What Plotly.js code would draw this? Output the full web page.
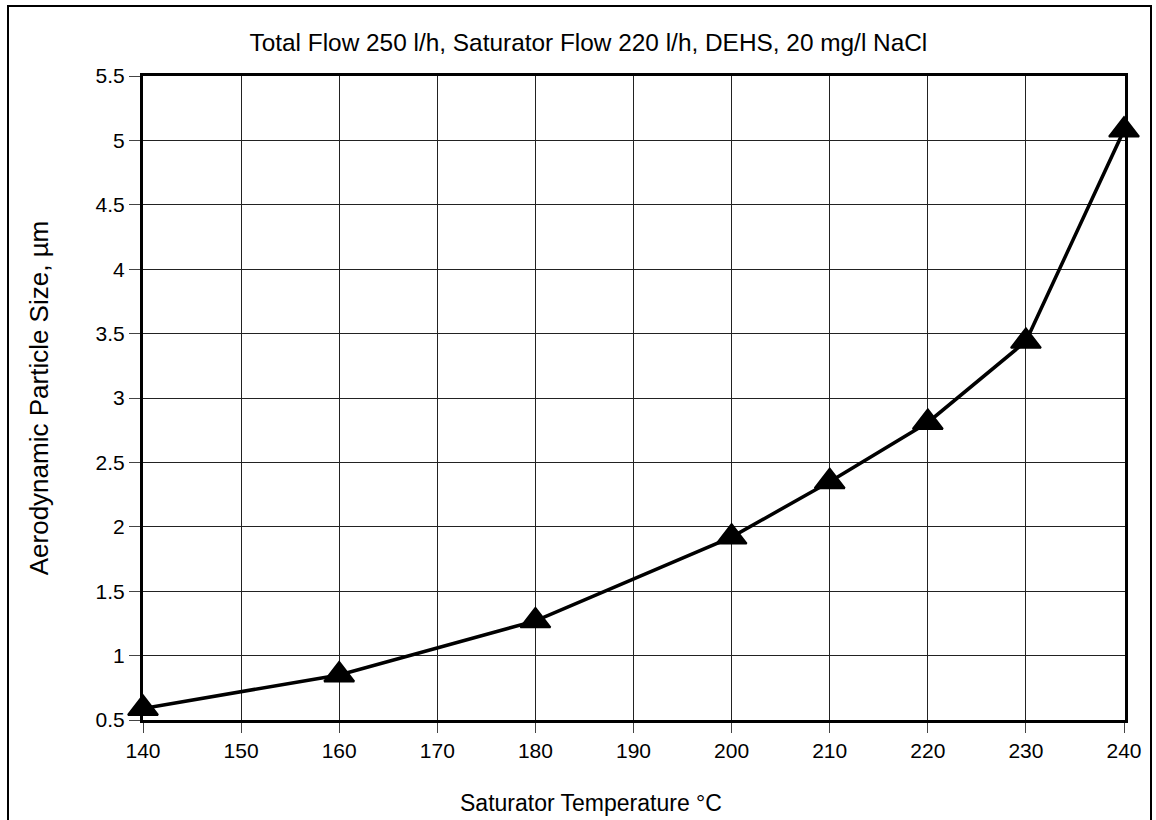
<!DOCTYPE html>
<html>
<head>
<meta charset="utf-8">
<script src="https://cdn.plot.ly/plotly-3.0.1.min.js"></script>
<style>
  html, body { margin: 0; padding: 0; background: #fff; }
  #wrap { position: relative; width: 1156px; height: 820px; overflow: hidden; }
  #chart { width: 1156px; height: 820px; }
  #frame {
    position: absolute; left: 7px; top: 5px; width: 1145px; height: 840px;
    border: 2.5px solid #000; box-sizing: border-box; pointer-events: none;
  }
</style>
</head>
<body>
<div id="wrap">
  <div id="chart"></div>
  <div id="frame"></div>
</div>
<script>
// Saturator temperature (°C) and resulting aerodynamic particle size (µm)
const saturatorTemp = [140, 160, 180, 200, 210, 220, 230, 240];
const particleSize  = [0.59, 0.85, 1.27, 1.92, 2.35, 2.81, 3.44, 5.08];

const chartTitle = 'Total Flow 250 l/h, Saturator Flow 220 l/h, DEHS, 20 mg/l NaCl';
const xTitle = 'Saturator Temperature °C';
const yTitle = 'Aerodynamic Particle Size, µm';

const FONT = 'Liberation Sans, Arial, Helvetica, sans-serif';

const trace = {
  x: saturatorTemp,
  y: particleSize,
  type: 'scatter',
  mode: 'lines+markers',
  line: { color: '#000', width: 3.5 },
  marker: { symbol: 'triangle-up', size: 26, color: '#000', line: { color: '#000', width: 2 } },
  cliponaxis: false,
  hoverinfo: 'x+y'
};

const layout = {
  width: 1156,
  height: 820,
  paper_bgcolor: '#fff',
  plot_bgcolor: '#fff',
  showlegend: false,
  margin: { l: 143, r: 31, t: 76, b: 100 },
  font: { family: FONT, color: '#000', size: 21 },
  title: {
    text: chartTitle,
    font: { family: FONT, size: 24.4, color: '#000' },
    xref: 'container', x: 0.509, xanchor: 'center',
    yref: 'container', y: 1 - 42 / 820, yanchor: 'middle'
  },
  xaxis: {
    range: [140, 240.1],
    tick0: 140, dtick: 10,
    ticks: 'outside', ticklen: 10, tickwidth: 1, tickcolor: '#444',
    tickfont: { family: FONT, size: 21, color: '#000' },
    showgrid: true, gridcolor: '#222', gridwidth: 1,
    zeroline: false,
    showline: true, linecolor: '#000', linewidth: 3, mirror: true
  },
  yaxis: {
    range: [0.5, 5.5],
    tick0: 0.5, dtick: 0.5,
    ticks: 'outside', ticklen: 11, tickwidth: 1, tickcolor: '#444',
    tickfont: { family: FONT, size: 21, color: '#000' },
    showgrid: true, gridcolor: '#222', gridwidth: 1,
    zeroline: false,
    showline: true, linecolor: '#000', linewidth: 3, mirror: true,
    title: { text: yTitle, font: { family: FONT, size: 26, color: '#000' }, standoff: 40 }
  },
  // horizontal axis caption, centred on the whole figure like the chart title
  annotations: [{
    text: xTitle,
    xref: 'paper', yref: 'paper',
    x: 0.456, y: -0.129, xanchor: 'center', yanchor: 'middle',
    showarrow: false,
    font: { family: FONT, size: 23, color: '#000' }
  }]
};

Plotly.newPlot('chart', [trace], layout, { displayModeBar: false, staticPlot: true });
</script>
</body>
</html>
